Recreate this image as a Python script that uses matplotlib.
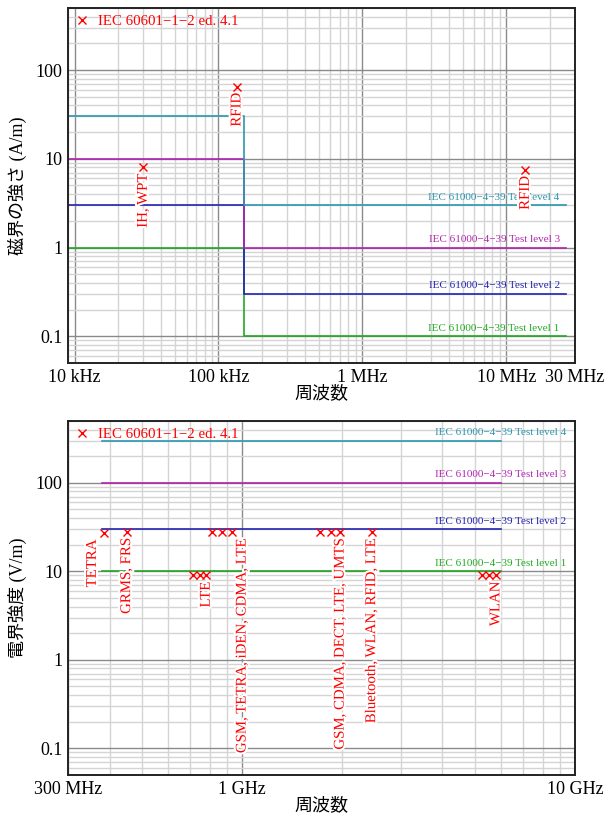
import matplotlib
matplotlib.use("Agg")
import matplotlib.pyplot as plt
import matplotlib.patheffects as pe
from matplotlib.ticker import LogLocator, NullFormatter, FixedLocator

plt.rcParams['font.family'] = ['Liberation Serif', 'Noto Sans CJK JP']
plt.rcParams['axes.unicode_minus'] = True

# ---- IEC 61000-4-39 magnetic field test levels (A/m) ----
h_edges = [9e3, 150e3, 26e6]
h_levels = {
    1: [1, 0.1],
    2: [3, 0.3],
    3: [10, 1],
    4: [30, 3],
}

# ---- IEC 61000-4-39 electric field test levels (V/m), 380 MHz - 6 GHz ----
e_edges = [380e6, 6e9]
e_levels = {1: 10, 2: 30, 3: 100, 4: 300}

level_colors = {1: '#22aa22', 2: '#2323b0', 3: '#b025b0', 4: '#2a97ad'}

# ---- IEC 60601-1-2 ed. 4.1 immunity test points ----
h_mark_freq = [30e3, 134.2e3, 13.56e6]
h_mark_val = [8, 65, 7.5]
h_text = ['IH, WPT', 'RFID', 'RFID']
h_text_freq = [30e3, 134.2e3, 13.56e6]
h_text_val = [8, 65, 7.5]

e_mark_freq = [385e6, 450e6, 710e6, 745e6, 780e6, 810e6, 870e6, 930e6,
               1720e6, 1845e6, 1970e6, 2450e6, 5240e6, 5500e6, 5785e6]
e_mark_val = [27, 28, 9, 9, 9, 28, 28, 28, 28, 28, 28, 28, 9, 9, 9]
e_text = ['TETRA', 'GRMS, FRS', 'LTE', 'GSM, TETRA, iDEN, CDMA, LTE',
          'GSM, CDMA, DECT, LTE, UMTS', 'Bluetooth, WLAN, RFID, LTE', 'WLAN']
e_text_freq = [355e6, 450e6, 780e6, 1000e6, 1970e6, 2450e6, 5785e6]
e_text_val = [27, 28, 9, 28, 28, 28, 9]

# ---- tick labels ----
h_ticks = [1e4, 1e5, 1e6, 1e7, 3e7]
h_ticklabels = ['10 kHz', '100 kHz', '1 MHz', '10 MHz', '30 MHz']
e_ticks = [3e8, 1e9, 1e10]
e_ticklabels = ['300 MHz', '1 GHz', '10 GHz']
y_ticks = [0.1, 1, 10, 100]
y_ticklabels = ['0.1', '1', '10', '100']

legend_label = 'IEC 60601\u22121\u22122 ed. 4.1'
level_label = 'IEC 61000\u22124\u221239 Test level {}'

fig = plt.figure(figsize=(6.06, 8.15), dpi=100)
ax_h = fig.add_axes([0.1122, 0.5546, 0.8366, 0.4356])
ax_e = fig.add_axes([0.1122, 0.0491, 0.8366, 0.4344])

stroke = [pe.withStroke(linewidth=3, foreground='white')]


def style_axes(ax, xlim, xticks, xticklabels, ylabel):
    ax.set_xscale('log')
    ax.set_yscale('log')
    ax.set_xlim(*xlim)
    ax.set_ylim(0.05, 500)
    ax.xaxis.set_major_locator(FixedLocator(xticks))
    ax.set_xticklabels(xticklabels)
    ax.xaxis.set_minor_locator(LogLocator(base=10, subs=range(2, 10), numticks=20))
    ax.xaxis.set_minor_formatter(NullFormatter())
    ax.yaxis.set_major_locator(FixedLocator(y_ticks))
    ax.set_yticklabels(y_ticklabels)
    ax.yaxis.set_minor_locator(LogLocator(base=10, subs=range(2, 10), numticks=20))
    ax.yaxis.set_minor_formatter(NullFormatter())
    ax.grid(which='minor', color='#d4d4d4', linewidth=1.0)
    ax.grid(which='major', color='#8a8a8a', linewidth=1.0)
    ax.set_axisbelow(True)
    ax.tick_params(which='both', length=0, labelsize=13, pad=4)
    for s in ax.spines.values():
        s.set_linewidth(1.4)
        s.set_color('#222222')
    ax.set_xlabel('周波数', fontsize=13, labelpad=0)
    ax.set_ylabel(ylabel, fontsize=13, labelpad=6)


# ---- magnetic field chart ----
style_axes(ax_h, (9e3, 3e7), h_ticks, h_ticklabels, '磁界の強さ (A/m)')
for lv in (1, 2, 3, 4):
    vals = h_levels[lv]
    ax_h.step(h_edges, vals + [vals[-1]], where='post',
              color=level_colors[lv], linewidth=1.2, zorder=2)
    ax_h.annotate(level_label.format(lv), xy=(23.5e6, vals[-1]),
                  xytext=(0, 4), textcoords='offset points',
                  ha='right', va='baseline', fontsize=8,
                  color=level_colors[lv], zorder=3)
ax_h.plot(h_mark_freq, h_mark_val, linestyle='none', marker='x',
          color='red', markersize=6, markeredgewidth=1.0, zorder=5,
          label=legend_label)
for t, f, v in zip(h_text, h_text_freq, h_text_val):
    ax_h.annotate(t, xy=(f, v), xytext=(0, -4.5), textcoords='offset points',
                  rotation=90, ha='center', va='top', fontsize=10.7,
                  color='red', path_effects=stroke, zorder=4)

# ---- electric field chart ----
style_axes(ax_e, (3e8, 1e10), e_ticks, e_ticklabels, '電界強度 (V/m)')
for lv in (1, 2, 3, 4):
    v = e_levels[lv]
    ax_e.plot(e_edges, [v, v], color=level_colors[lv], linewidth=1.2, zorder=2)
    ax_e.annotate(level_label.format(lv), xy=(9.4e9, v),
                  xytext=(0, 4), textcoords='offset points',
                  ha='right', va='baseline', fontsize=8,
                  color=level_colors[lv], zorder=3)
ax_e.plot(e_mark_freq, e_mark_val, linestyle='none', marker='x',
          color='red', markersize=6, markeredgewidth=1.0, zorder=5,
          label=legend_label)
for t, f, v in zip(e_text, e_text_freq, e_text_val):
    ax_e.annotate(t, xy=(f, v), xytext=(0, -4.5), textcoords='offset points',
                  rotation=90, ha='center', va='top', fontsize=10.7,
                  color='red', path_effects=stroke, zorder=4)

for ax in (ax_h, ax_e):
    ax.legend(loc='upper left', frameon=False, fontsize=10.7,
              labelcolor='red', handlelength=1.0, handletextpad=0.6,
              borderaxespad=0.15, borderpad=0.3, markerscale=1.0)

fig.savefig('out.png', dpi=100)
